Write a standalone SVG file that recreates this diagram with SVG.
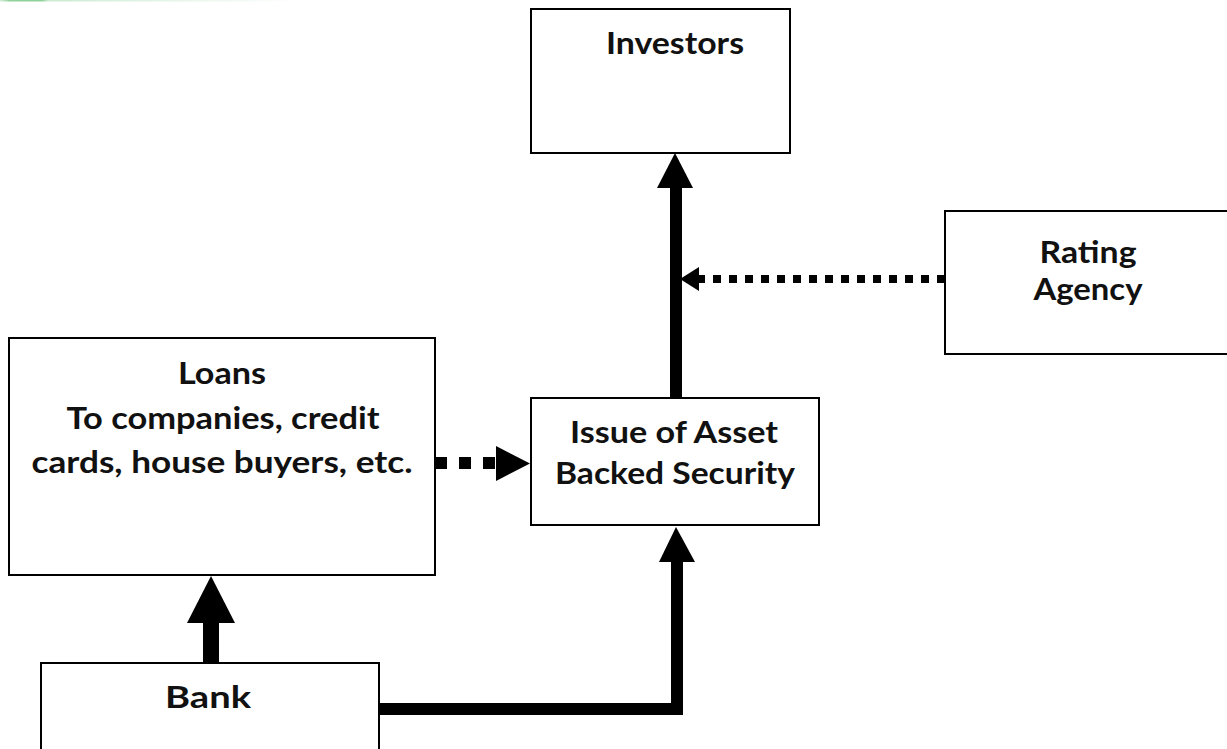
<svg xmlns="http://www.w3.org/2000/svg" width="1227" height="749" viewBox="0 0 1227 749">
<style>
.box{fill:#fff;stroke:#000;stroke-width:2}
.lbl{font-family:Lato,"Open Sans","Liberation Sans",sans-serif;font-weight:bold;font-size:31px;fill:#111;text-anchor:middle}
.head{fill:#000;stroke:none}
.shaft{fill:none;stroke:#000}
</style>
<defs>
<linearGradient id="topg" x1="0" x2="1" y1="0" y2="0">
<stop offset="0" stop-color="#b9e2bf" stop-opacity="0.6"/>
<stop offset="0.03" stop-color="#8fd19a"/>
<stop offset="0.14" stop-color="#8fd19a"/>
<stop offset="0.16" stop-color="#cdebd2"/>
<stop offset="1" stop-color="#ffffff"/>
</linearGradient>
</defs>
<rect x="0" y="0" width="1227" height="749" fill="#fff"/>
<rect x="0" y="0" width="300" height="1.5" fill="url(#topg)"/>

<g id="node-investors">
<rect class="box" x="531" y="9" width="259" height="144"/>
<text class="lbl" x="675" y="54" textLength="138" lengthAdjust="spacingAndGlyphs">Investors</text>
</g>
<g id="node-rating">
<rect class="box" x="945" y="211" width="290" height="143"/>
<text class="lbl" x="1088" y="263" textLength="97" lengthAdjust="spacingAndGlyphs">Rating</text>
<text class="lbl" x="1088" y="300" textLength="109" lengthAdjust="spacingAndGlyphs">Agency</text>
</g>
<g id="node-loans">
<rect class="box" x="9" y="338" width="426" height="237"/>
<text class="lbl" x="222" y="384" textLength="88" lengthAdjust="spacingAndGlyphs">Loans</text>
<text class="lbl" x="223" y="429" textLength="313" lengthAdjust="spacingAndGlyphs">To companies, credit</text>
<text class="lbl" x="222" y="473" textLength="381" lengthAdjust="spacingAndGlyphs">cards, house buyers, etc.</text>
</g>
<g id="node-issue">
<rect class="box" x="531" y="398" width="288" height="127"/>
<text class="lbl" x="674" y="443" textLength="208" lengthAdjust="spacingAndGlyphs">Issue of Asset</text>
<text class="lbl" x="675" y="484" textLength="240" lengthAdjust="spacingAndGlyphs">Backed Security</text>
</g>
<g id="node-bank">
<rect class="box" x="41" y="663" width="338" height="100"/>
<text class="lbl" x="208" y="708" textLength="86" lengthAdjust="spacingAndGlyphs">Bank</text>
</g>

<g id="connectors">
<!-- Issue -> Investors -->
<line class="shaft" x1="676" y1="397" x2="676" y2="186" stroke-width="12"/>
<polygon class="head" points="657,188 693,188 675,153"/>
<!-- Rating -> shaft (dotted) -->
<line class="shaft" x1="945" y1="279" x2="698" y2="279" stroke-width="8" stroke-dasharray="8 8"/>
<polygon class="head" points="699,267 699,291 680,279"/>
<!-- Loans -> Issue (dotted) -->
<line class="shaft" x1="435" y1="463" x2="496" y2="463" stroke-width="12" stroke-dasharray="12 12"/>
<polygon class="head" points="496,446 496,481 530,463.5"/>
<!-- Bank -> Loans -->
<line class="shaft" x1="211" y1="663" x2="211" y2="621" stroke-width="16"/>
<polygon class="head" points="187,623 235,623 211,576"/>
<!-- Bank -> Issue (elbow) -->
<polyline class="shaft" points="379,709 677,709 677,560" stroke-width="12" stroke-linejoin="miter"/>
<polygon class="head" points="659,562 695,562 676,527"/>
</g>
</svg>
